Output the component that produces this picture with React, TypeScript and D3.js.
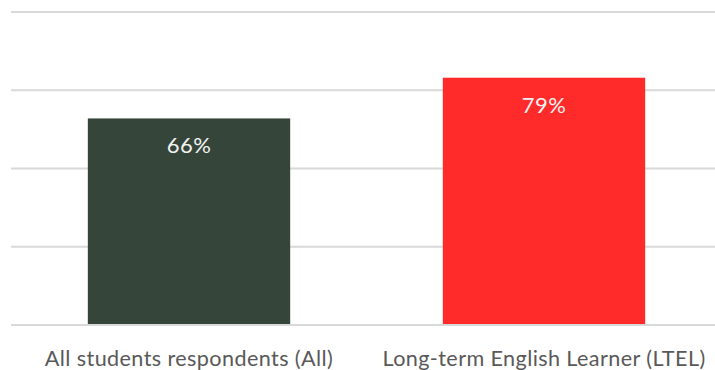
import React from "react";
import * as d3 from "d3";

const categories = ["All students respondents (All)", "Long-term English Learner (LTEL)"];
const values = [66, 79];
const barColors = ["#36453a", "#ff2a2a"];
const gridTicks = [0, 25, 50, 75, 100];

const W = 715;
const H = 370;

export default function App() {
  const x = d3.scaleBand<string>().domain(categories).range([11.5, 721.5]).paddingInner(0.43).paddingOuter(0.215);
  const y = d3.scaleLinear().domain([0, 100]).range([325, 12]);
  const font = "Lato, 'Open Sans', sans-serif";
  return (
    <svg width={W} height={H} style={{ position: "absolute", left: 0, top: 0, background: "#fff" }}>
      {gridTicks.map((t) => (
        <line key={t} x1={11} x2={W} y1={y(t)} y2={y(t)} stroke="#d9d9d9" strokeWidth={2} />
      ))}
      {categories.map((c, i) => (
        <g key={c}>
          <rect x={x(c)} y={y(values[i])} width={x.bandwidth()} height={y(0) - y(values[i]) - 1} fill={barColors[i]} />
          <text x={(x(c) as number) + x.bandwidth() / 2} y={y(values[i]) + 35} textAnchor="middle" fill="#f2f2f2" fontSize={22} letterSpacing={0.5} fontFamily={font}>
            {values[i]}%
          </text>
          <text x={(x(c) as number) + x.bandwidth() / 2} y={366} textAnchor="middle" fill="#595959" fontSize={21.6} letterSpacing={0.4} fontFamily={font}>
            {c}
          </text>
        </g>
      ))}
    </svg>
  );
}
